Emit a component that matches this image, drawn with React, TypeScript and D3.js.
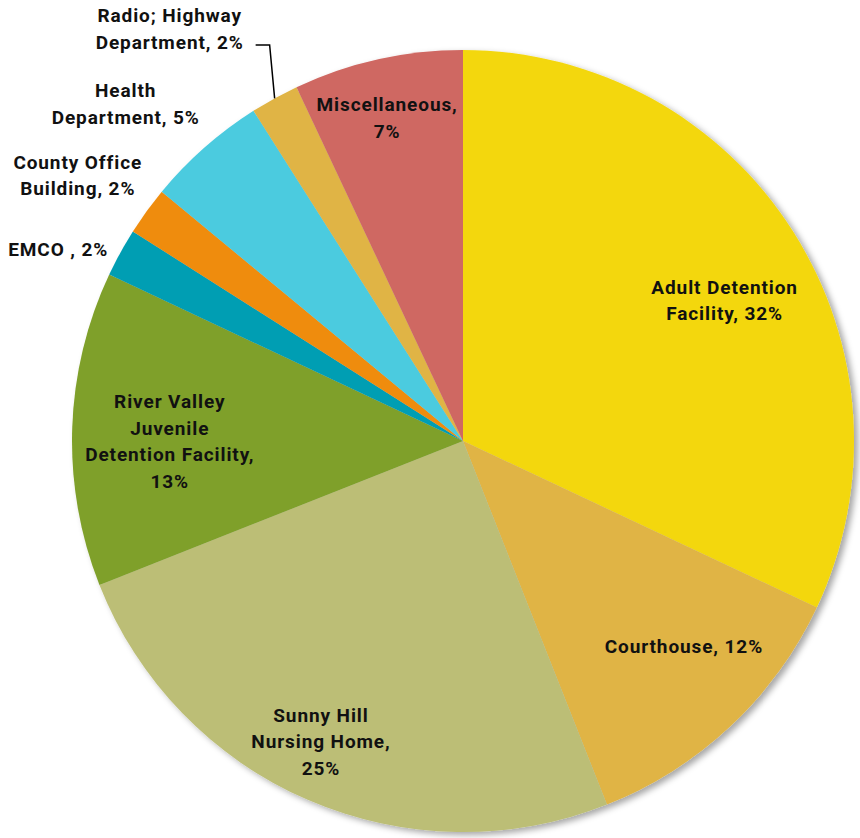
import React from "react";
import * as d3 from "d3";

const categories = [
  "Adult Detention Facility",
  "Courthouse",
  "Sunny Hill Nursing Home",
  "River Valley Juvenile Detention Facility",
  "EMCO ",
  "County Office Building",
  "Health Department",
  "Radio; Highway Department",
  "Miscellaneous",
];
const values = [32, 12, 25, 13, 2, 2, 5, 2, 7];
const colors = [
  "#F3D711",
  "#E0B444",
  "#BCBE76",
  "#7FA02A",
  "#069EB3",
  "#EF8C0A",
  "#4BCBDF",
  "#E0B444",
  "#CF6862",
];
const labelLines = [
  ["Adult Detention", "Facility, 32%"],
  ["Courthouse, 12%"],
  ["Sunny Hill", "Nursing Home,", "25%"],
  ["River Valley", "Juvenile", "Detention Facility,", "13%"],
  ["EMCO , 2%"],
  ["County Office", "Building, 2%"],
  ["Health", "Department, 5%"],
  ["Radio; Highway", "Department, 2%"],
  ["Miscellaneous,", "7%"],
];
// label layout: polar angle (deg, clockwise from top) and radius factor
const labelAngle = [61.7, 132.8, 205.3, 270, 295.4, 304.6, 315, 324.6, 346.8];
const labelRadius = [0.76, 0.77, 0.85, 0.75, 1.146, 1.197, 1.22, 1.295, 0.85];

const W = 860;
const H = 838;
const cx = 463;
const cy = 441;
const R = 391;
const lineH = 26.5;

export default function App() {
  const pie = d3.pie<number>().sort(null).value((d) => d)(values);
  const arc = d3.arc<d3.PieArcDatum<number>>().innerRadius(0).outerRadius(R);
  const radio = pie[7];
  const midA = (radio.startAngle + radio.endAngle) / 2;
  const p0: [number, number] = [R * Math.sin(midA), -R * Math.cos(midA)];
  return (
    <svg width={W} height={H} style={{ position: "absolute", left: 0, top: 0 }}>
      <defs>
        <filter id="sh" x="-10%" y="-10%" width="120%" height="120%">
          <feDropShadow dx="4" dy="3" stdDeviation="3" floodColor="#000" floodOpacity="0.35" />
        </filter>
      </defs>
      <g transform={`translate(${cx},${cy})`}>
        <g filter="url(#sh)">
          {pie.map((p, i) => (
            <path key={i} d={arc(p) || ""} fill={colors[i]} />
          ))}
        </g>
        <path
          d={`M${p0[0]},${p0[1]} L${p0[0] - 5},${-396} L${p0[0] - 19},${-396}`}
          fill="none"
          stroke="#000"
          strokeWidth={1.5}
        />
        {labelLines.map((lines, i) => {
          const a = (labelAngle[i] * Math.PI) / 180;
          const r = R * labelRadius[i];
          const x = r * Math.sin(a);
          const y = -r * Math.cos(a);
          const y0 = y - ((lines.length - 1) * lineH) / 2;
          return (
            <text
              key={i}
              x={x}
              y={y0}
              textAnchor="middle"
              dominantBaseline="central"
              fontFamily="Roboto, 'Noto Sans', sans-serif"
              fontWeight={700}
              fontSize={19}
              letterSpacing={0.9}
              fill="#111"
            >
              {lines.map((l, j) => (
                <tspan key={j} x={x} y={y0 + j * lineH}>
                  {l}
                </tspan>
              ))}
            </text>
          );
        })}
      </g>
    </svg>
  );
}
